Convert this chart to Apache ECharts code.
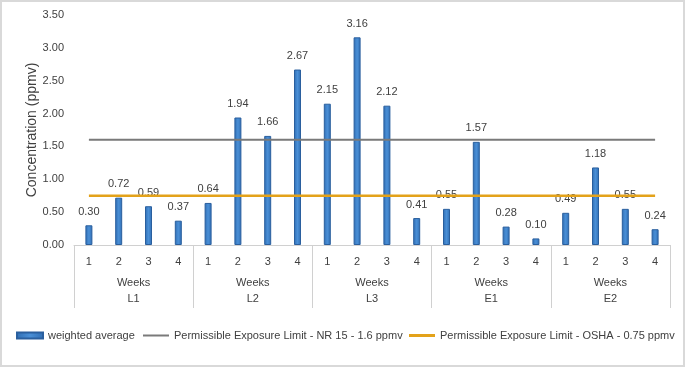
<!DOCTYPE html>
<html>
<head>
<meta charset="utf-8">
<script src="https://cdn.jsdelivr.net/npm/echarts@6/dist/echarts.min.js"></script>
<style>
  html, body { margin: 0; padding: 0; background: #fff; }
  #chart {
    width: 685px;
    height: 367px;
    box-sizing: border-box;
    border: 2px solid #d9d9d9;
  }
</style>
</head>
<body>
<div id="chart"></div>
<script>
const weekLabels = ['1', '2', '3', '4']
const groups = ['L1', 'L2', 'L3', 'E1', 'E2']
const weightedAverage = [
  0.30, 0.72, 0.59, 0.37,
  0.64, 1.94, 1.66, 2.67,
  2.15, 3.16, 2.12, 0.41,
  0.55, 1.57, 0.28, 0.10,
  0.49, 1.18, 0.55, 0.24,
]
const nr15Limit = 1.6
const oshaLimit = 0.75

const seriesNames = [
  'weighted average',
  'Permissible Exposure Limit - NR 15 - 1.6 ppmv',
  'Permissible Exposure Limit - OSHA - 0.75 ppmv',
]

const font = 'Liberation Sans, Arial, sans-serif'
const textColor = '#404040'
const axisGrey = '#d0d0d0'

const weekAxis = groups.flatMap(() => weekLabels)
const groupAxis = groups.map((g) => 'Weeks\n' + g)

const chart = echarts.init(document.getElementById('chart'))

const legendBase = {
  orient: 'horizontal',
  top: 323,
  itemWidth: 26,
  textStyle: { color: textColor, fontSize: 11, fontFamily: font },
}

chart.setOption({
  animation: false,
  textStyle: { fontFamily: font },
  grid: { left: 72, right: 13, top: 13, bottom: 120 },
  legend: [
    { ...legendBase, left: 9, itemHeight: 6, data: [{ name: seriesNames[0], icon: 'rect' }] },
    { ...legendBase, left: 136, itemHeight: 2, data: [{ name: seriesNames[1], icon: 'rect' }] },
    { ...legendBase, left: 402, itemHeight: 3, data: [{ name: seriesNames[2], icon: 'rect' }] },
  ],
  xAxis: [
    {
      type: 'category',
      data: weekAxis,
      axisLine: { show: true, lineStyle: { color: axisGrey, width: 1 } },
      axisTick: { show: false },
      axisLabel: { interval: 0, margin: 11, color: textColor, fontSize: 11 },
    },
    {
      type: 'category',
      position: 'bottom',
      data: groupAxis,
      axisLine: { show: false },
      axisTick: { show: true, length: 63, lineStyle: { color: axisGrey, width: 1 } },
      axisLabel: { interval: 0, margin: 30, color: textColor, fontSize: 11, lineHeight: 16 },
    },
  ],
  yAxis: {
    type: 'value',
    min: 0,
    max: 3.5,
    interval: 0.5,
    name: 'Concentration (ppmv)',
    nameLocation: 'middle',
    nameGap: 35,
    nameMoveOverlap: false,
    nameTextStyle: { color: textColor, fontSize: 14 },
    axisLine: { show: false },
    axisTick: { show: false },
    splitLine: { show: false },
    axisLabel: {
      color: textColor,
      fontSize: 11,
      margin: 10,
      formatter: (v) => v.toFixed(2),
    },
  },
  series: [
    {
      name: seriesNames[0],
      type: 'bar',
      xAxisIndex: 0,
      data: weightedAverage,
      barWidth: 7,
      itemStyle: {
        color: new echarts.graphic.LinearGradient(0, 0, 1, 0, [
          { offset: 0, color: '#2f6db3' },
          { offset: 0.5, color: '#4a8fd6' },
          { offset: 1, color: '#2f6db3' },
        ]),
        borderColor: '#2a5f9e',
        borderWidth: 1,
      },
      label: {
        show: true,
        position: 'top',
        distance: 8,
        color: textColor,
        fontSize: 11,
        formatter: (p) => p.value.toFixed(2),
      },
      z: 2,
    },
    {
      name: seriesNames[1],
      type: 'line',
      xAxisIndex: 0,
      data: weekAxis.map(() => nr15Limit),
      symbol: 'none',
      lineStyle: { color: '#7a7a7a', width: 2 },
      itemStyle: { color: '#7a7a7a' },
      z: 3,
    },
    {
      name: seriesNames[2],
      type: 'line',
      xAxisIndex: 0,
      data: weekAxis.map(() => oshaLimit),
      symbol: 'none',
      lineStyle: { color: '#e3a21a', width: 2.5 },
      itemStyle: { color: '#e3a21a' },
      z: 3,
    },
  ],
})
</script>
</body>
</html>
